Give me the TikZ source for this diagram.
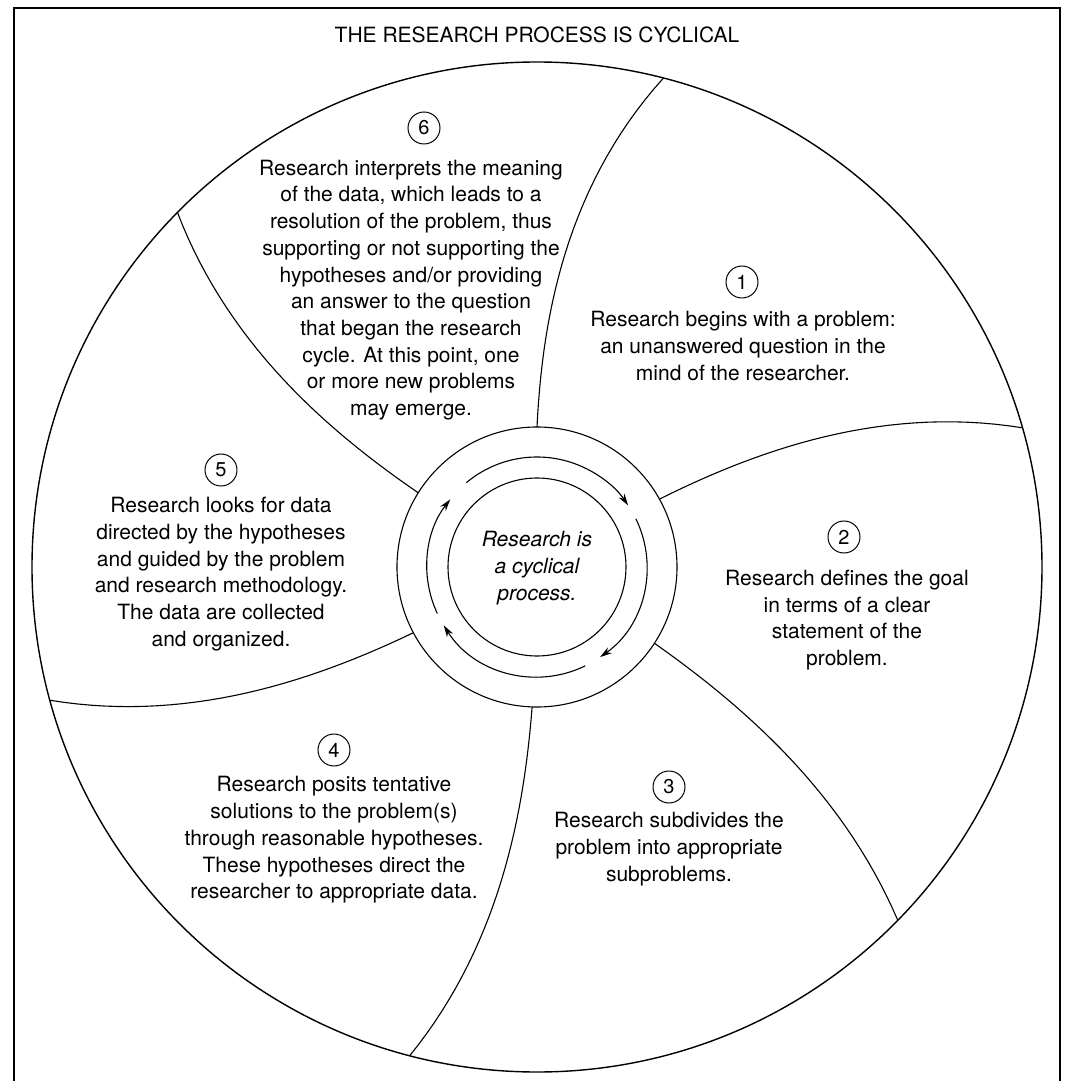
\documentclass[tikz,border=0pt]{standalone}
\usepackage{fontspec}
\setmainfont{TeX Gyre Heros}
\usetikzlibrary{arrows.meta}
\begin{document}
\begin{tikzpicture}[x=1pt, y=1pt,
	blurb/.style={align=center, font=\fontsize{21}{26.7}\selectfont, inner sep=0pt},
	numcirc/.style={circle, draw, line width=1pt, minimum size=32pt, inner sep=0pt, font=\fontsize{20}{20}\selectfont},
	spoke/.style={line width=1.1pt},
	turn/.style={line width=1.1pt, -{Stealth[length=12pt, width=7pt]}}]
	\useasboundingbox (-537,-514) rectangle (533,567);
	\draw[line width=1.2pt] (-523,-514) -- (-523,559) -- (523,559) -- (523,-514);
	\node[blurb] (title) at (0,532) {THE RESEARCH PROCESS IS CYCLICAL};
	\draw[line width=1.4pt] (0,0) circle (505);
	\draw[spoke] (0,0) circle (140);
	\draw[spoke] (0,0) circle (89);
	\foreach \a/\d in {90/14.5, 29/13, -33/11.4, -92/12.6, -152/12.7, 148/12.6}
		\draw[spoke] plot[domain=0:1, samples=30, variable=\t] ({\a-\d*(0.5*\t+0.5*\t*\t)}:{140+365*\t});
	\foreach \s/\e in {130/34, 26/-55, -64/-148, 205/142}
		\draw[turn] (\s:110) arc[start angle=\s, end angle=\e, radius=110];
	\node[blurb, font=\fontsize{21}{26.7}\selectfont\itshape] (hub) at (0,-1) {Research is\\a cyclical\\process.};
	\node[numcirc] (n1) at (205,285) {1};
	\node[blurb] (t1) at (206,221) {Research begins with a problem:\\an unanswered question in the\\mind of the researcher.};
	\node[numcirc] (n2) at (307,30) {2};
	\node[blurb] (t2) at (310,-53) {Research defines the goal\\in terms of a clear\\statement of the\\problem.};
	\node[numcirc] (n3) at (132,-220) {3};
	\node[blurb] (t3) at (132,-282) {Research subdivides the\\problem into appropriate\\subproblems.};
	\node[numcirc] (n4) at (-203,-183) {4};
	\node[blurb] (t4) at (-203,-273) {Research posits tentative\\solutions to the problem(s)\\through reasonable hypotheses.\\These hypotheses direct the\\researcher to appropriate data.};
	\node[numcirc] (n5) at (-316,97) {5};
	\node[blurb] (t5) at (-316,-7) {Research looks for data\\directed by the hypotheses\\and guided by the problem\\and research methodology.\\The data are collected\\and organized.};
	\node[numcirc] (n6) at (-113,439) {6};
	\node[blurb] (t6) at (-126,277) {Research interprets the meaning\\of the data, which leads to a\\resolution of the problem, thus\\supporting or not supporting the\\hypotheses and/or providing\\an answer to the question\\that began the research\\cycle. At this point, one\\or more new problems\\may emerge.};
\end{tikzpicture}
\end{document}
